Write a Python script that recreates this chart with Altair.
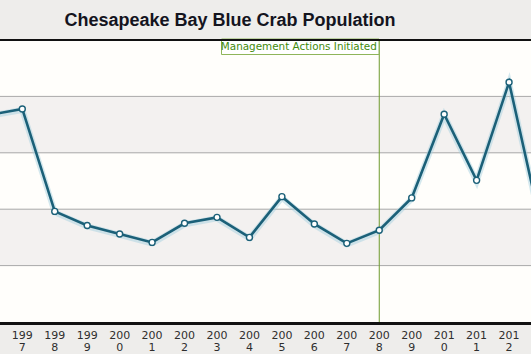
import altair as alt
import pandas as pd

years = list(range(1996, 2014))
population = [661, 680, 353, 308, 281, 254, 315, 334, 270, 400, 313, 251, 293, 396, 663, 452, 765, 300]
label_years = list(range(1997, 2013))
band_low = [0, 180, 360, 540, 720]
band_high = [180, 360, 540, 720, 900]
band_color = ["#fffefb", "#f3f1f0", "#fffefb", "#f3f1f0", "#fffefb"]
grid_values = [180, 360, 540, 720]
action_year = [2008]
title_text = "Chesapeake Bay Blue Crab Population"
note_text = "Management Actions Initiated"

W, H = 531, 282
xdom = [1996.313, 2012.676]

df = pd.DataFrame({"year": years, "pop": population})
bands = pd.DataFrame({"lo": band_low, "hi": band_high, "c": band_color})
grid = pd.DataFrame({"g": grid_values})
act = pd.DataFrame({"year": action_year, "note": [note_text], "title": [title_text]})
labs = pd.DataFrame({"year": label_years,
                     "lab": [str(y)[:3] + "\n" + str(y)[3:] for y in label_years]})

xs = alt.Scale(domain=xdom, nice=False, zero=False)
ys = alt.Scale(domain=[0, 900], nice=False, zero=True)

band_layer = alt.Chart(bands).mark_rect().encode(
    x=alt.value(0), x2=alt.value(W),
    y=alt.Y("lo:Q", scale=ys, axis=None), y2="hi:Q",
    color=alt.Color("c:N", scale=None))

grid_layer = alt.Chart(grid).mark_rule(color="#a9a9a9", strokeWidth=1).encode(
    y=alt.Y("g:Q", scale=ys, axis=None), x=alt.value(0), x2=alt.value(W))

vline = alt.Chart(act).mark_rule(color="#6f9a2c", strokeWidth=1).encode(
    x=alt.X("year:Q", scale=xs, axis=None), y=alt.value(0), y2=alt.value(H))

glow = alt.Chart(df).mark_line(color="#9fcfde", strokeWidth=6, opacity=0.45,
                               clip=True, yOffset=1).encode(
    x=alt.X("year:Q", scale=xs, axis=None), y=alt.Y("pop:Q", scale=ys, axis=None))

line = alt.Chart(df).mark_line(color="#1b6078", strokeWidth=2.6, clip=True).encode(
    x=alt.X("year:Q", scale=xs, axis=None), y=alt.Y("pop:Q", scale=ys, axis=None))

pts = alt.Chart(df).mark_point(filled=True, fill="white", stroke="#1b6078",
                               strokeWidth=1.4, size=36, opacity=1, clip=True).encode(
    x=alt.X("year:Q", scale=xs, axis=None), y=alt.Y("pop:Q", scale=ys, axis=None))

box = alt.Chart(act).mark_rect(fill="white", stroke="#8fb55a", strokeWidth=1).encode(
    x=alt.value(221.5), x2=alt.value(379), y=alt.value(-1), y2=alt.value(14.5))

note = alt.Chart(act).mark_text(align="right", baseline="middle", dx=-2.5, fontSize=10.4,
                                font="DejaVu Sans", color="#3f8a0c").encode(
    x=alt.X("year:Q", scale=xs, axis=None), y=alt.value(7), text="note:N")

top_rule = alt.Chart(act).mark_rule(color="#111111", strokeWidth=2).encode(
    x=alt.value(0), x2=alt.value(W), y=alt.value(0))
bot_rule = alt.Chart(act).mark_rule(color="#111111", strokeWidth=3).encode(
    x=alt.value(0), x2=alt.value(W), y=alt.value(H + 1.5))

xlabels = alt.Chart(labs).mark_text(align="center", baseline="top", fontSize=11,
                                    lineHeight=12, font="DejaVu Sans", color="#2e2e2e",
                                    lineBreak="\n").encode(
    x=alt.X("year:Q", scale=xs, axis=None), y=alt.value(H + 8), text="lab:N")

title = alt.Chart(act).mark_text(align="center", baseline="alphabetic", fontSize=18,
                                 fontWeight="bold", font="Liberation Sans",
                                 color="#14141e").encode(
    x=alt.value(230), y=alt.value(-14), text="title:N")

chart = alt.layer(band_layer, grid_layer, vline, glow, line, pts, box, note,
                  top_rule, bot_rule, xlabels, title).properties(
    width=W, height=H,
    autosize=alt.AutoSizeParams(type="none"),
    padding={"top": 40, "bottom": 32, "left": 0, "right": 0},
    background="#eeedeb",
).configure_view(stroke=None)

chart.save("out.html", embed_options={"renderer": "svg", "actions": False})
